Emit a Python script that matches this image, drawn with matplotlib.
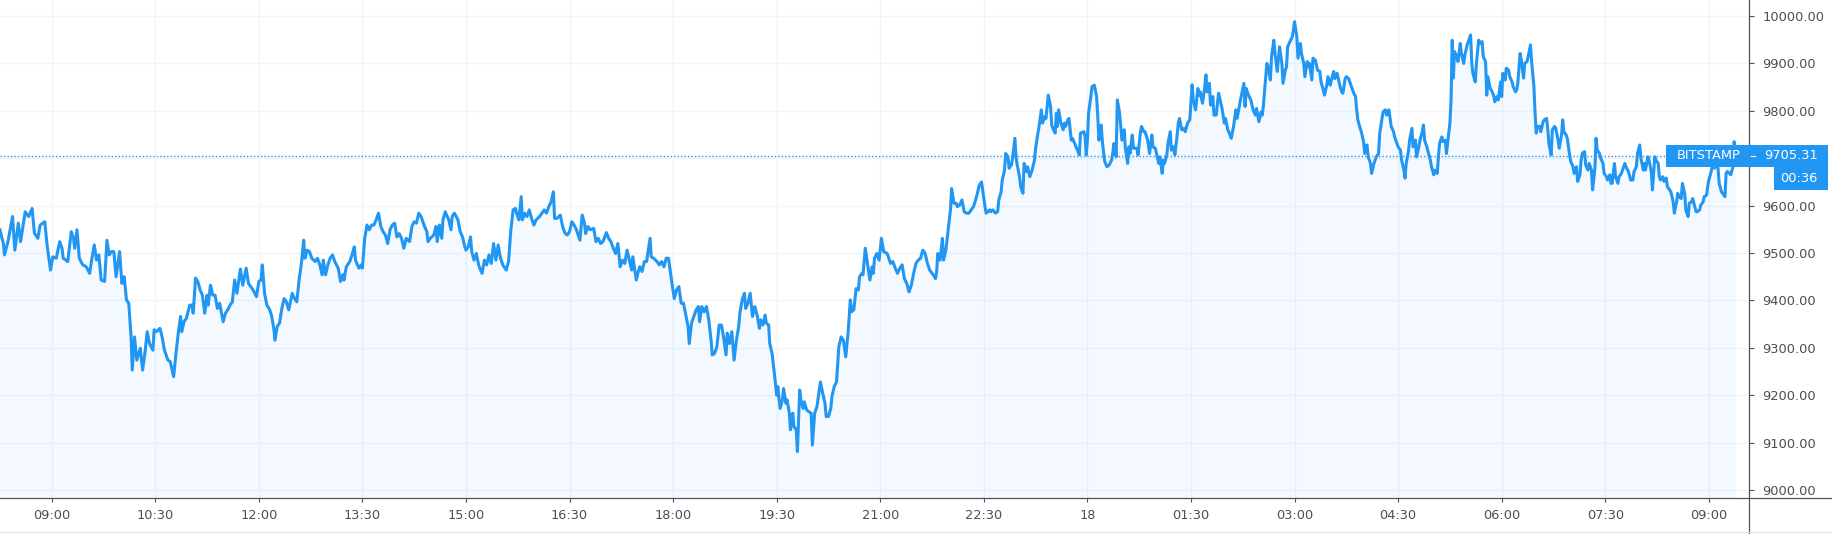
import pandas as pd
import matplotlib
matplotlib.use('Agg')
import matplotlib.pyplot as plt
from matplotlib.patches import Rectangle
from matplotlib.lines import Line2D

# Price of BTC/USD (Bitstamp), minutes counted from 09:00 on day 17
start = pd.Timestamp('2020-02-17 09:00')
exchange = 'BITSTAMP'
last_price = 9705.31
countdown = '00:36'

# 08:15 - 12:26
mins_1 = [
    -45, -42, -41, -38, -34, -32, -29, -27, -23, -20,
    -17, -15, -12, -10, -6, -4, -1, 1, 4, 7,
    9, 10, 14, 17, 19, 20, 22, 24, 27, 30,
    33, 35, 37, 39, 41, 43, 46, 48, 50, 52,
    54, 56, 59, 61, 63, 65, 67, 69, 70, 72,
    74, 77, 79, 81, 83, 85, 88, 89, 91, 94,
    96, 98, 101, 103, 106, 108, 110, 112, 113, 115,
    117, 120, 122, 123, 125, 127, 129, 131, 133, 135,
    136, 138, 140, 142, 144, 146, 149, 151, 153, 155,
    157, 159, 161, 164, 166, 169, 171, 173, 175, 178,
    180, 182, 183, 185, 187, 189, 191, 193, 194, 196,
    198, 200, 202, 204, 206,
]
price_1 = [
    9549, 9520, 9496, 9524, 9577, 9506, 9563, 9524, 9587, 9577,
    9594, 9542, 9531, 9559, 9566, 9517, 9464, 9492, 9489, 9524,
    9510, 9489, 9482, 9545, 9531, 9510, 9549, 9489, 9475, 9471,
    9457, 9489, 9517, 9485, 9496, 9443, 9440, 9527, 9496, 9503,
    9503, 9450, 9503, 9436, 9450, 9401, 9394, 9323, 9253, 9323,
    9274, 9299, 9253, 9288, 9334, 9309, 9295, 9338, 9334, 9341,
    9323, 9295, 9274, 9271, 9239, 9288, 9331, 9366, 9334, 9355,
    9362, 9390, 9390, 9373, 9447, 9440, 9422, 9411, 9373, 9411,
    9390, 9432, 9411, 9411, 9383, 9394, 9355, 9373, 9380, 9390,
    9397, 9443, 9415, 9466, 9432, 9468, 9436, 9429, 9422, 9408,
    9440, 9443, 9475, 9415, 9390, 9383, 9369, 9341, 9316, 9345,
    9352, 9383, 9404, 9397, 9380,
]

# 12:29 - 16:36
mins_2 = [
    209, 211, 213, 215, 217, 219, 220, 222, 224, 226,
    229, 231, 233, 235, 236, 238, 240, 242, 244, 246,
    249, 251, 253, 254, 256, 259, 261, 263, 264, 267,
    269, 270, 272, 274, 276, 278, 280, 282, 284, 286,
    288, 290, 292, 294, 296, 298, 300, 302, 304, 306,
    308, 311, 313, 315, 317, 319, 321, 324, 326, 327,
    329, 332, 334, 335, 337, 339, 340, 342, 345, 347,
    348, 350, 353, 355, 357, 359, 360, 362, 364, 365,
    367, 369, 371, 372, 374, 376, 378, 380, 382, 384,
    386, 388, 390, 392, 393, 395, 397, 399, 401, 403,
    404, 406, 408, 409, 411, 413, 415, 417, 419, 421,
    424, 426, 428, 430, 432, 434, 436, 437, 439, 442,
    444, 446, 448, 450, 452, 454, 456,
]
price_2 = [
    9415, 9404, 9397, 9443, 9478, 9527, 9489, 9506, 9503, 9489,
    9482, 9489, 9475, 9454, 9485, 9454, 9475, 9489, 9496, 9482,
    9468, 9440, 9454, 9443, 9471, 9482, 9496, 9513, 9485, 9468,
    9475, 9468, 9531, 9559, 9549, 9559, 9559, 9570, 9584, 9556,
    9545, 9538, 9520, 9549, 9559, 9563, 9534, 9541, 9531, 9510,
    9531, 9524, 9556, 9566, 9563, 9584, 9577, 9556, 9545, 9524,
    9531, 9538, 9556, 9524, 9559, 9531, 9570, 9587, 9570, 9549,
    9577, 9584, 9570, 9545, 9534, 9513, 9506, 9513, 9534, 9503,
    9485, 9499, 9475, 9468, 9457, 9485, 9475, 9496, 9478, 9520,
    9485, 9517, 9489, 9475, 9471, 9464, 9482, 9549, 9591, 9594,
    9584, 9570, 9619, 9570, 9584, 9577, 9591, 9573, 9559, 9570,
    9577, 9584, 9591, 9584, 9598, 9608, 9629, 9573, 9573, 9580,
    9556, 9542, 9538, 9545, 9566, 9559, 9549,
]

# 16:39 - 20:47
mins_3 = [
    459, 461, 463, 464, 466, 468, 471, 473, 475, 477,
    479, 482, 484, 486, 488, 490, 492, 494, 496, 498,
    500, 502, 504, 505, 508, 509, 511, 513, 515, 517,
    518, 520, 521, 523, 526, 528, 530, 532, 534, 536,
    537, 539, 541, 543, 545, 547, 549, 551, 553, 554,
    556, 558, 560, 562, 563, 565, 567, 569, 571, 573,
    574, 576, 578, 580, 582, 584, 586, 587, 589, 591,
    593, 595, 597, 598, 600, 602, 603, 605, 607, 609,
    611, 613, 615, 616, 618, 620, 621, 623, 624, 626,
    628, 630, 631, 633, 635, 636, 638, 639, 641, 642,
    644, 645, 647, 648, 650, 651, 653, 654, 656, 658,
    660, 661, 663, 665, 667, 668, 670, 672, 673, 675,
    677, 678, 680, 682, 684, 686, 688, 690, 692, 694,
    695, 697, 699, 701, 702, 704, 705, 707,
]
price_3 = [
    9527, 9580, 9563, 9541, 9556, 9549, 9552, 9524, 9531, 9520,
    9524, 9543, 9531, 9524, 9510, 9499, 9520, 9471, 9485, 9478,
    9506, 9485, 9464, 9492, 9443, 9454, 9471, 9461, 9482, 9482,
    9499, 9531, 9492, 9489, 9482, 9475, 9482, 9471, 9489, 9489,
    9471, 9436, 9404, 9422, 9429, 9394, 9394, 9369, 9345, 9309,
    9352, 9366, 9380, 9387, 9355, 9387, 9376, 9387, 9359, 9316,
    9285, 9288, 9302, 9348, 9348, 9320, 9285, 9331, 9309, 9334,
    9274, 9316, 9345, 9373, 9401, 9415, 9383, 9394, 9415, 9366,
    9387, 9369, 9341, 9359, 9348, 9369, 9352, 9348, 9309, 9288,
    9246, 9200, 9218, 9172, 9190, 9214, 9183, 9190, 9162, 9127,
    9162, 9134, 9127, 9081, 9211, 9190, 9172, 9186, 9169, 9165,
    9162, 9095, 9162, 9176, 9211, 9228, 9204, 9183, 9155, 9155,
    9172, 9197, 9218, 9228, 9302, 9323, 9316, 9281, 9330, 9401,
    9376, 9380, 9425, 9422, 9450, 9457, 9454, 9510,
]

# 20:51 - 01:05
mins_4 = [
    711, 713, 714, 715, 717, 719, 721, 723, 726, 728,
    729, 731, 733, 735, 737, 739, 741, 743, 745, 747,
    749, 751, 753, 755, 757, 759, 761, 763, 766, 768,
    769, 770, 772, 774, 775, 777, 779, 781, 782, 784,
    786, 787, 789, 791, 793, 795, 797, 799, 801, 802,
    804, 806, 808, 809, 811, 812, 815, 816, 818, 820,
    822, 823, 825, 826, 828, 829, 831, 832, 834, 835,
    837, 838, 839, 841, 842, 844, 845, 847, 848, 850,
    852, 854, 855, 857, 858, 860, 861, 863, 864, 866,
    868, 869, 870, 872, 873, 874, 875, 877, 879, 880,
    881, 883, 884, 886, 887, 889, 890, 892, 893, 894,
    897, 898, 899, 900, 901, 903, 904, 906, 908, 909,
    910, 912, 913, 915, 917, 919, 921, 922, 923, 925,
    926, 928, 929, 930, 932, 933, 935, 936, 937, 939,
    940, 941, 943, 944, 946, 947, 949, 950, 952, 953,
    954, 956, 957, 959, 960, 962, 963, 965,
]
price_4 = [
    9443, 9471, 9457, 9489, 9499, 9485, 9531, 9503, 9499, 9485,
    9478, 9482, 9468, 9457, 9468, 9475, 9446, 9436, 9418, 9432,
    9457, 9478, 9485, 9489, 9506, 9499, 9478, 9464, 9454, 9446,
    9461, 9499, 9485, 9531, 9485, 9506, 9549, 9591, 9636, 9605,
    9605, 9598, 9601, 9612, 9587, 9584, 9584, 9591, 9598, 9605,
    9622, 9643, 9650, 9633, 9598, 9584, 9591, 9587, 9591, 9584,
    9587, 9612, 9629, 9654, 9675, 9710, 9703, 9679, 9686, 9700,
    9742, 9703, 9686, 9661, 9640, 9626, 9689, 9672, 9682, 9661,
    9675, 9696, 9721, 9753, 9767, 9802, 9774, 9788, 9784, 9833,
    9809, 9770, 9763, 9753, 9795, 9767, 9802, 9774, 9760, 9774,
    9767, 9781, 9784, 9738, 9742, 9731, 9724, 9714, 9707, 9753,
    9756, 9745, 9707, 9738, 9795, 9830, 9851, 9854, 9830, 9788,
    9738, 9770, 9735, 9693, 9682, 9686, 9696, 9710, 9731, 9703,
    9823, 9795, 9767, 9738, 9760, 9721, 9689, 9724, 9710, 9749,
    9721, 9721, 9721, 9707, 9753, 9767, 9756, 9756, 9742, 9728,
    9710, 9749, 9724, 9721, 9710, 9689, 9703, 9668,
]

# 01:06 - 05:16
mins_5 = [
    966, 967, 969, 970, 972, 973, 975, 976, 978, 979,
    980, 982, 984, 985, 987, 989, 991, 992, 994, 996,
    997, 998, 1000, 1002, 1003, 1004, 1006, 1007, 1009, 1010,
    1012, 1013, 1014, 1016, 1017, 1019, 1020, 1022, 1024, 1025,
    1027, 1029, 1030, 1032, 1033, 1036, 1037, 1038, 1040, 1042,
    1044, 1046, 1047, 1049, 1051, 1052, 1053, 1054, 1056, 1057,
    1059, 1060, 1062, 1063, 1065, 1066, 1067, 1069, 1070, 1072,
    1073, 1074, 1076, 1078, 1079, 1080, 1082, 1083, 1085, 1086,
    1088, 1089, 1091, 1092, 1093, 1095, 1096, 1098, 1100, 1102,
    1103, 1105, 1106, 1108, 1109, 1111, 1112, 1114, 1115, 1117,
    1118, 1120, 1121, 1122, 1124, 1125, 1127, 1128, 1130, 1131,
    1133, 1134, 1135, 1137, 1138, 1140, 1141, 1143, 1144, 1146,
    1147, 1149, 1150, 1151, 1153, 1154, 1156, 1157, 1159, 1160,
    1162, 1163, 1164, 1166, 1167, 1169, 1170, 1172, 1173, 1175,
    1176, 1177, 1179, 1180, 1182, 1183, 1185, 1186, 1188, 1189,
    1191, 1192, 1193, 1195, 1196, 1198, 1199, 1201, 1202, 1204,
    1205, 1206, 1208, 1209, 1211, 1212, 1214, 1215, 1216,
]
price_5 = [
    9696, 9689, 9707, 9731, 9756, 9717, 9724, 9707, 9749, 9774,
    9784, 9760, 9763, 9756, 9774, 9781, 9855, 9823, 9802, 9847,
    9833, 9840, 9816, 9851, 9876, 9840, 9858, 9812, 9830, 9791,
    9791, 9816, 9837, 9816, 9805, 9774, 9784, 9760, 9749, 9742,
    9767, 9802, 9784, 9809, 9823, 9858, 9809, 9847, 9833, 9823,
    9802, 9791, 9805, 9777, 9798, 9791, 9812, 9844, 9900, 9893,
    9865, 9914, 9949, 9921, 9883, 9911, 9935, 9900, 9858, 9886,
    9893, 9935, 9946, 9956, 9970, 9988, 9956, 9911, 9942, 9921,
    9900, 9872, 9904, 9893, 9900, 9865, 9911, 9907, 9886, 9883,
    9861, 9844, 9833, 9854, 9872, 9854, 9865, 9883, 9868, 9879,
    9868, 9847, 9840, 9837, 9868, 9872, 9868, 9861, 9847, 9840,
    9830, 9802, 9781, 9763, 9756, 9735, 9710, 9728, 9703, 9689,
    9668, 9689, 9696, 9703, 9710, 9752, 9784, 9798, 9802, 9791,
    9802, 9784, 9767, 9756, 9745, 9731, 9724, 9717, 9696, 9675,
    9658, 9689, 9714, 9738, 9763, 9724, 9738, 9703, 9724, 9738,
    9756, 9770, 9738, 9724, 9714, 9696, 9682, 9665, 9675, 9668,
    9703, 9731, 9745, 9735, 9738, 9710, 9752, 9774, 9823,
]

# 05:17 - 09:23
mins_6 = [
    1217, 1218, 1219, 1221, 1222, 1224, 1225, 1227, 1228, 1230,
    1231, 1233, 1234, 1235, 1237, 1238, 1240, 1241, 1243, 1244,
    1246, 1247, 1248, 1250, 1251, 1253, 1254, 1256, 1257, 1259,
    1260, 1261, 1263, 1264, 1266, 1267, 1269, 1270, 1272, 1273,
    1274, 1276, 1277, 1279, 1280, 1282, 1283, 1285, 1286, 1288,
    1289, 1290, 1291, 1293, 1294, 1296, 1297, 1299, 1300, 1301,
    1303, 1304, 1306, 1307, 1309, 1310, 1312, 1313, 1314, 1316,
    1317, 1319, 1320, 1322, 1323, 1325, 1326, 1328, 1329, 1330,
    1332, 1333, 1335, 1336, 1338, 1339, 1341, 1342, 1343, 1345,
    1346, 1348, 1349, 1351, 1352, 1354, 1355, 1356, 1358, 1359,
    1361, 1362, 1364, 1365, 1367, 1368, 1370, 1371, 1372, 1374,
    1375, 1377, 1378, 1380, 1381, 1383, 1384, 1385, 1387, 1388,
    1390, 1391, 1393, 1394, 1396, 1397, 1398, 1400, 1401, 1403,
    1404, 1406, 1407, 1409, 1410, 1412, 1413, 1414, 1416, 1417,
    1419, 1420, 1422, 1423, 1425, 1426, 1427, 1429, 1430, 1432,
    1433, 1435, 1436, 1438, 1439, 1440, 1442, 1443, 1445, 1446,
    1448, 1449, 1451, 1452, 1454, 1455, 1456, 1458, 1459, 1461,
    1462, 1463,
]
price_6 = [
    9949, 9869, 9925, 9914, 9904, 9942, 9921, 9900, 9918, 9939,
    9946, 9960, 9900, 9879, 9861, 9900, 9949, 9942, 9946, 9914,
    9904, 9833, 9872, 9847, 9844, 9833, 9819, 9830, 9823, 9861,
    9830, 9879, 9865, 9890, 9886, 9872, 9861, 9851, 9840, 9844,
    9858, 9921, 9907, 9869, 9900, 9904, 9914, 9939, 9904, 9851,
    9795, 9753, 9767, 9767, 9756, 9777, 9781, 9784, 9763, 9731,
    9707, 9760, 9767, 9763, 9738, 9721, 9749, 9781, 9756, 9749,
    9742, 9707, 9693, 9682, 9668, 9682, 9651, 9665, 9696, 9710,
    9714, 9686, 9675, 9689, 9675, 9633, 9679, 9742, 9717, 9710,
    9700, 9689, 9668, 9661, 9654, 9665, 9647, 9647, 9689, 9661,
    9647, 9661, 9668, 9675, 9689, 9682, 9672, 9665, 9654, 9654,
    9672, 9682, 9710, 9728, 9700, 9675, 9689, 9675, 9703, 9696,
    9672, 9633, 9703, 9696, 9689, 9661, 9654, 9661, 9651, 9658,
    9640, 9633, 9629, 9608, 9584, 9608, 9626, 9619, 9615, 9647,
    9626, 9591, 9577, 9605, 9608, 9615, 9605, 9587, 9587, 9591,
    9601, 9608, 9619, 9622, 9640, 9654, 9672, 9682, 9679, 9689,
    9679, 9647, 9629, 9626, 9619, 9668, 9672, 9668, 9665, 9682,
    9735, last_price,
]

# Шкалы
price_ticks = list(range(9000, 10001, 100))
time_tick_step = 90  # минут

LINE = '#2196f3'
GRID = '#f0f3fa'
AXIS = '#50535e'
TEXT = '#4a4e59'

W, H = 1833, 534
AX_RIGHT = 1749
AX_BOTTOM = 498

minutes = mins_1 + mins_2 + mins_3 + mins_4 + mins_5 + mins_6
prices = price_1 + price_2 + price_3 + price_4 + price_5 + price_6
times = start + pd.to_timedelta(minutes, unit='min')

fig = plt.figure(figsize=(W / 100, H / 100), dpi=100)
ax = fig.add_axes([0, (H - AX_BOTTOM) / H, AX_RIGHT / W, AX_BOTTOM / H])

y_min, y_max = 8983.1, 10033.8
ax.set_xlim(start - pd.Timedelta(minutes=44.9), start + pd.Timedelta(minutes=1474.9))
ax.set_ylim(y_min, y_max)

ax.fill_between(times, prices, y_min - 50, color=LINE, alpha=0.05, lw=0, zorder=1)
ax.axhline(last_price, color=LINE, lw=1, ls=(0, (1, 1.5)), zorder=2)
ax.plot(times, prices, color=LINE, lw=2.2, zorder=3)

# Сетка и подписи осей
xticks = [start + pd.Timedelta(minutes=time_tick_step * k) for k in range(17)]
xlabels = [t.strftime('%d').lstrip('0') if t.hour == 0 and t.minute == 0 else t.strftime('%H:%M')
           for t in xticks]
ax.set_xticks(xticks)
ax.set_xticklabels(xlabels)
ax.set_yticks(price_ticks)
# подпись 9700 закрыта плашкой текущей цены
ax.set_yticklabels(['' if abs(v - last_price) < 50 else f'{v:.2f}' for v in price_ticks])
ax.yaxis.tick_right()
ax.grid(color=GRID, lw=1)
ax.set_axisbelow(True)
for s in ax.spines.values():
    s.set_visible(False)
ax.tick_params(axis='x', length=3, width=0.8, color=AXIS, pad=5, labelsize=9.3, labelcolor=TEXT)
ax.tick_params(axis='y', length=3.5, width=0.8, color=AXIS, pad=6, labelsize=9.4, labelcolor=TEXT)

# Линии осей на всю ширину / высоту
fig.add_artist(Line2D([0, 1], [(H - AX_BOTTOM) / H] * 2, color=AXIS, lw=0.9))
fig.add_artist(Line2D([AX_RIGHT / W] * 2, [0, 1], color=AXIS, lw=0.9))
fig.add_artist(Line2D([0, 1], [2.5 / H] * 2, color='#e0e3eb', lw=0.8))

# Плашки с текущей ценой
y_px = ax.transData.transform((0, last_price))[1]


def label_box(x0, x1, yc, h, text, tx):
    fig.add_artist(Rectangle((x0 / W, (yc - h / 2) / H), (x1 - x0) / W, h / H,
                             facecolor=LINE, edgecolor='none', zorder=10))
    fig.text(tx / W, yc / H, text, color='white', fontsize=9.4,
             ha='center', va='center', zorder=11)


label_box(1666, AX_RIGHT, y_px, 22, exchange, 1709)
label_box(AX_RIGHT, 1828, y_px, 22, f'{last_price:.2f}', 1791)
label_box(1774, 1828, y_px - 23, 23, countdown, 1799)
fig.add_artist(Line2D([(AX_RIGHT + 2) / W, (AX_RIGHT + 6) / W], [y_px / H] * 2,
                      color='white', lw=0.9, zorder=12))

fig.savefig('out.png', dpi=100)
